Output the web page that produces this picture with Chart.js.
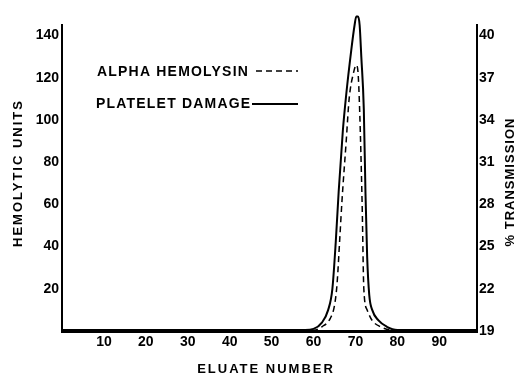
<!DOCTYPE html>
<html>
<head>
<meta charset="utf-8">
<script src="https://cdn.jsdelivr.net/npm/chart.js@4.4.1/dist/chart.umd.min.js"></script>
<style>
  html, body { margin: 0; padding: 0; background: #fff; }
  #wrap { width: 521px; height: 377px; position: relative; }
</style>
</head>
<body>
<div id="wrap"><canvas id="elutionChart"></canvas></div>
<script>
// ---- data ----
const plateletX = [0, 58, 60, 62, 63.5, 64.5, 65.3, 66, 67, 67.8, 69, 69.8, 70.2, 70.6, 71, 71.4, 72, 72.4, 72.8, 73.3, 74, 75.5, 77.5, 80, 99];
const plateletY = [0.5, 0.5, 1, 4, 10, 20, 42, 66, 95, 112, 133, 145, 149, 149, 145, 130, 105, 65, 35, 17, 10, 5, 2, 0.5, 0.5];

const hemolysinX = [0, 60, 62, 64, 65, 65.6, 66.3, 66.8, 67.8, 68.5, 69.5, 70.2, 70.6, 71, 71.6, 72, 72.8, 74, 76, 79, 99];
const hemolysinY = [0.3, 0.3, 2, 6, 12, 22, 45, 62, 90, 110, 122, 126, 123, 105, 60, 20, 10, 5, 2, 0.3, 0.3];

const xTicks = [10, 20, 30, 40, 50, 60, 70, 80, 90];
const leftTicks = [20, 40, 60, 80, 100, 120, 140];
const rightTicks = [19, 22, 25, 28, 31, 34, 37, 40];

const FONT = '"Liberation Sans", Arial, sans-serif';

const toPoints = (xs, ys) => xs.map((x, i) => ({ x: x, y: ys[i] }));

// titles + hand-drawn key like the original figure
const annotations = {
    id: 'annotations',
    afterDraw(chart) {
        const c = chart.ctx;
        c.save();
        c.fillStyle = '#000';
        c.strokeStyle = '#000';
        c.font = 'bold 14px ' + FONT;
        c.letterSpacing = '1.2px';
        c.textBaseline = 'middle';
        c.textAlign = 'left';

        // key
        c.fillText('ALPHA HEMOLYSIN', 97, 72);
        c.fillText('PLATELET DAMAGE', 96, 104);
        c.lineWidth = 1.5;
        c.setLineDash([6, 4]);
        c.beginPath(); c.moveTo(256, 71); c.lineTo(298, 71); c.stroke();
        c.setLineDash([]);
        c.lineWidth = 2;
        c.beginPath(); c.moveTo(252, 104); c.lineTo(298, 104); c.stroke();

        // axis titles
        c.textAlign = 'center';
        c.font = 'bold 13px ' + FONT;
        c.letterSpacing = '2px';
        c.fillText('ELUATE NUMBER', 266, 369);

        c.translate(18, 173);
        c.rotate(-Math.PI / 2);
        c.fillText('HEMOLYTIC UNITS', 0, 0);
        c.setTransform(1, 0, 0, 1, 0, 0);

        c.letterSpacing = '1px';
        c.translate(510, 182);
        c.rotate(-Math.PI / 2);
        c.fillText('% TRANSMISSION', 0, 0);
        c.restore();
    }
};

new Chart(document.getElementById('elutionChart'), {
    type: 'line',
    data: {
        datasets: [
            {
                label: 'PLATELET DAMAGE',
                data: toPoints(plateletX, plateletY),
                borderColor: '#000',
                borderWidth: 2,
                pointRadius: 0,
                cubicInterpolationMode: 'monotone',
                clip: false,
                yAxisID: 'y'
            },
            {
                label: 'ALPHA HEMOLYSIN',
                data: toPoints(hemolysinX, hemolysinY),
                borderColor: '#000',
                borderWidth: 1.5,
                borderDash: [6, 4],
                pointRadius: 0,
                cubicInterpolationMode: 'monotone',
                clip: false,
                yAxisID: 'y'
            }
        ]
    },
    options: {
        responsive: true,
        maintainAspectRatio: false,
        animation: false,
        layout: { padding: { top: 25, left: 0, right: 0, bottom: 0 } },
        plugins: {
            legend: { display: false },
            tooltip: { enabled: false }
        },
        scales: {
            x: {
                type: 'linear',
                min: 0,
                max: 99,
                afterBuildTicks: s => { s.ticks = xTicks.map(v => ({ value: v })); },
                afterFit: s => { s.height = 46; },
                grid: { display: false, drawTicks: false },
                border: { color: '#000', width: 3 },
                ticks: { color: '#000', padding: 3, maxRotation: 0, font: { family: FONT, weight: 'bold', size: 14 } }
            },
            y: {
                position: 'left',
                min: 0,
                max: 145,
                afterBuildTicks: s => { s.ticks = leftTicks.map(v => ({ value: v })); },
                afterFit: s => { s.width = 62; },
                grid: { display: false, drawTicks: false },
                border: { color: '#000', width: 2 },
                ticks: { color: '#000', padding: 3, font: { family: FONT, weight: 'bold', size: 14 } }
            },
            y2: {
                position: 'right',
                min: 19,
                max: 19 + 145 * 0.15,
                afterBuildTicks: s => { s.ticks = rightTicks.map(v => ({ value: v })); },
                afterFit: s => { s.width = 44; },
                grid: { display: false, drawTicks: false },
                border: { color: '#000', width: 2 },
                ticks: { color: '#000', padding: 2, font: { family: FONT, weight: 'bold', size: 14 } }
            }
        }
    },
    plugins: [annotations]
});
</script>
</body>
</html>
